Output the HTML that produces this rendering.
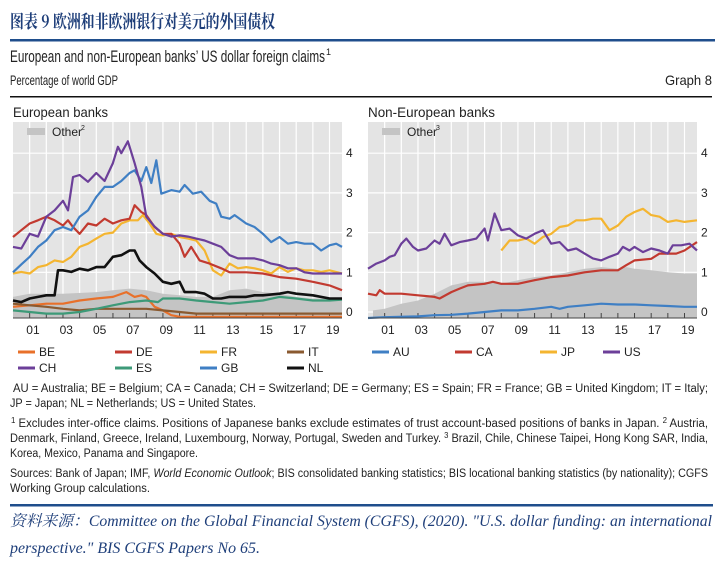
<!DOCTYPE html>
<html><head><meta charset="utf-8"><style>
html,body{margin:0;padding:0;background:#fff;width:726px;height:570px;overflow:hidden}
svg{display:block}
.t{font-family:"Liberation Sans Narrow","Liberation Sans",sans-serif;fill:#222}
</style></head><body>
<svg id="root" width="726" height="570" viewBox="0 0 726 570" xmlns="http://www.w3.org/2000/svg">
<text x="10" y="28" font-family="'Noto Serif CJK SC','Liberation Serif',serif" font-weight="bold" font-size="18" fill="#1f3f7a" textLength="265" lengthAdjust="spacingAndGlyphs">图表 9  欧洲和非欧洲银行对美元的外国债权</text>
<rect x="10" y="39" width="705" height="2.5" fill="#1f4e8c"/>
<text class="t" x="10" y="62" font-size="17" textLength="315" lengthAdjust="spacingAndGlyphs">European and non-European banks’ US dollar foreign claims</text>
<text class="t" x="326" y="55" font-size="9">1</text>
<text class="t" x="10" y="85" font-size="14" textLength="108" lengthAdjust="spacingAndGlyphs">Percentage of world GDP</text>
<text class="t" x="665" y="85" font-size="14" textLength="47" lengthAdjust="spacingAndGlyphs">Graph 8</text>
<rect x="10" y="96" width="702" height="1.5" fill="#111"/>
<text class="t" x="13" y="117" font-size="14" textLength="95" lengthAdjust="spacingAndGlyphs">European banks</text>
<text class="t" x="368" y="117" font-size="14" textLength="127" lengthAdjust="spacingAndGlyphs">Non-European banks</text>
<g id="left"></g>
<g id="right"></g>
<g id="legend"></g>
<g class="t" font-size="11.5">
<text x="13" y="392" textLength="695" lengthAdjust="spacingAndGlyphs">AU = Australia; BE = Belgium; CA = Canada; CH = Switzerland; DE = Germany; ES = Spain; FR = France; GB = United Kingdom; IT = Italy;</text>
<text x="10" y="407" textLength="246" lengthAdjust="spacingAndGlyphs">JP = Japan; NL = Netherlands; US = United States.</text>
<text x="11" y="427" textLength="697" lengthAdjust="spacingAndGlyphs"><tspan font-size="8" dy="-4">1</tspan><tspan dy="4"> Excludes inter-office claims. Positions of Japanese banks exclude estimates of trust account-based positions of banks in Japan.  </tspan><tspan font-size="8" dy="-4">2</tspan><tspan dy="4"> Austria,</tspan></text>
<text x="10" y="442" textLength="698" lengthAdjust="spacingAndGlyphs">Denmark, Finland, Greece, Ireland, Luxembourg, Norway, Portugal, Sweden and Turkey.  <tspan font-size="8" dy="-4">3</tspan><tspan dy="4"> Brazil, Chile, Chinese Taipei, Hong Kong SAR, India,</tspan></text>
<text x="10" y="457" textLength="188" lengthAdjust="spacingAndGlyphs">Korea, Mexico, Panama and Singapore.</text>
<text x="10" y="477" textLength="698" lengthAdjust="spacingAndGlyphs">Sources: Bank of Japan; IMF, <tspan font-style="italic">World Economic Outlook</tspan>; BIS consolidated banking statistics; BIS locational banking statistics (by nationality); CGFS</text>
<text x="10" y="492" textLength="140" lengthAdjust="spacingAndGlyphs">Working Group calculations.</text>
</g>
<rect x="10" y="504" width="703" height="2.5" fill="#1f4e8c"/>
<g font-family="'Liberation Serif','Noto Serif CJK SC',serif" font-style="italic" font-size="15.5" fill="#1f3f7a">
<text x="10" y="526" textLength="702" lengthAdjust="spacingAndGlyphs">资料来源：Committee on the Global Financial System (CGFS), (2020). "U.S. dollar funding: an international</text>
<text x="10" y="553" textLength="250" lengthAdjust="spacingAndGlyphs">perspective." BIS CGFS Papers No 65.</text>
</g>
</svg>
<script>
const xTickLabels=["01","03","05","07","09","11","13","15","17","19"];
const yTickValues=[0,1,2,3,4];
// Left panel (European banks)
const otherLT=[2000,2001,2003,2005,2006,2007,2008,2009,2010,2011,2012,2013,2014,2015,2016,2017,2018,2019,2019.75];
const otherLV=[0.38,0.46,0.46,0.5,0.55,0.59,0.55,0.46,0.42,0.38,0.38,0.55,0.59,0.5,0.46,0.38,0.34,0.34,0.3];
const chT=[2000,2000.5,2001,2001.5,2002,2002.5,2003,2003.3,2003.6,2004,2004.5,2005,2005.5,2006,2006.3,2006.5,2006.9,2007.3,2007.7,2008,2008.5,2009,2009.5,2010,2010.5,2011,2011.5,2012,2012.5,2013,2013.5,2014,2014.5,2015,2015.5,2016,2016.5,2017,2017.5,2018,2018.5,2019,2019.75];
const chV=[1.64,1.6,1.97,1.9,2.4,2.56,2.8,2.56,3.4,3.45,3.28,3.5,3.3,3.75,4.16,4.0,4.3,3.75,3.15,2.4,2.15,1.97,1.9,1.93,1.9,1.85,1.8,1.72,1.64,1.43,1.35,1.35,1.35,1.3,1.22,1.18,1.1,1.1,1.0,0.97,0.97,0.97,0.97];
const gbT=[2000,2000.5,2001,2001.5,2002,2002.5,2003,2003.5,2004,2004.5,2005,2005.5,2006,2006.5,2007,2007.3,2007.7,2008,2008.3,2008.6,2008.9,2009.5,2010,2010.3,2010.8,2011.3,2011.8,2012.2,2012.5,2013,2013.3,2014,2014.5,2015,2015.5,2016,2016.5,2017,2017.5,2018,2018.5,2019,2019.4,2019.75];
const gbV=[1.0,1.2,1.39,1.64,1.8,2.06,2.14,2.06,2.4,2.56,2.9,3.15,3.15,3.3,3.5,3.57,3.3,3.65,3.25,3.82,2.98,3.07,3.03,3.2,2.98,3.03,2.8,2.73,2.4,2.35,2.44,2.23,2.14,1.97,1.76,1.89,1.72,1.76,1.72,1.72,1.55,1.68,1.72,1.64];
const deT=[2000,2000.5,2001,2001.5,2002,2002.5,2003,2003.3,2003.6,2004,2004.5,2005,2005.5,2006,2006.5,2007,2007.3,2007.7,2008,2008.5,2009,2009.5,2010,2010.3,2010.7,2011.2,2011.8,2012.5,2013,2014,2015,2016,2017,2018,2019,2019.75];
const deV=[1.89,2.06,2.23,2.31,2.4,2.31,2.18,2.31,2.14,1.97,2.23,2.18,2.35,2.23,2.31,2.35,2.69,2.52,2.44,2.14,1.97,1.97,1.72,1.39,1.64,1.3,1.22,1.1,1.0,1.0,0.97,0.88,0.84,0.76,0.67,0.55];
const frT=[2000,2000.5,2001,2001.5,2002,2002.5,2003,2003.5,2004,2004.5,2005,2005.5,2006,2006.5,2007,2007.5,2007.8,2008.2,2008.6,2009,2009.5,2010,2010.5,2011,2011.5,2012,2012.5,2013,2013.5,2014,2014.5,2015,2015.5,2016,2016.5,2017,2017.5,2018,2018.5,2019,2019.75];
const frV=[0.97,1.01,0.97,1.13,1.18,1.3,1.26,1.39,1.64,1.72,1.85,1.97,2.0,2.23,2.31,2.31,2.44,2.23,1.97,1.93,1.97,1.89,1.85,1.8,1.55,1.05,0.92,1.22,1.1,1.13,1.1,1.05,0.97,1.13,1.01,1.1,1.05,1.05,1.01,1.05,0.97];
const nlT=[2000,2000.5,2001,2001.5,2002,2002.5,2002.7,2003,2003.5,2004,2004.5,2005,2005.5,2006,2006.5,2007,2007.3,2007.6,2008,2008.5,2009,2009.5,2010,2010.3,2011,2011.5,2012,2012.5,2013,2014,2014.5,2015,2016,2016.5,2017,2018,2019,2019.75];
const nlV=[0.29,0.25,0.34,0.38,0.42,0.42,1.05,1.05,1.01,1.09,1.05,1.13,1.13,1.39,1.43,1.55,1.55,1.3,1.13,0.97,0.76,0.71,0.76,0.5,0.5,0.46,0.34,0.34,0.38,0.38,0.42,0.42,0.46,0.5,0.46,0.42,0.34,0.34];
const beT=[2000,2001,2002,2003,2004,2005,2006,2006.8,2007.3,2007.7,2008,2008.5,2009,2009.5,2010,2015,2019.75];
const beV=[0.13,0.17,0.21,0.21,0.29,0.34,0.38,0.5,0.38,0.42,0.38,0.13,0.04,-0.08,-0.12,-0.12,-0.12];
const itT=[2000,2001,2002,2003,2004,2005,2006,2007,2008,2009,2010,2011,2012,2019.75];
const itV=[0.21,0.17,0.13,0.08,0.04,0.08,0.08,0.08,0.08,0.04,0.0,-0.04,-0.04,-0.04];
const esT=[2000,2001,2002,2003,2004,2005,2006,2007,2008,2008.7,2009,2010,2011,2012,2013,2014,2015,2016,2017,2018,2019,2019.75];
const esV=[0.04,0.0,-0.04,-0.04,0.0,0.08,0.17,0.25,0.29,0.25,0.34,0.34,0.29,0.25,0.21,0.25,0.29,0.38,0.34,0.29,0.29,0.31];
// Right panel (non-European banks)
const otherRT=[2000.3,2001,2002,2003,2004,2005,2006,2007,2008,2009,2010,2011,2012,2013,2014,2015,2015.5,2016,2017,2018,2019,2019.75];
const otherRV=[0.04,0.08,0.21,0.29,0.46,0.67,0.76,0.76,0.71,0.8,0.88,0.92,1.0,1.09,1.13,1.09,1.13,1.09,1.05,1.0,0.97,0.97];
const usT=[2000,2000.5,2001,2001.3,2001.6,2002,2002.3,2002.7,2003,2003.5,2004,2004.3,2004.6,2005,2005.5,2006,2006.5,2007,2007.2,2007.6,2008,2008.5,2009,2009.5,2010,2010.5,2011,2011.5,2012,2012.5,2013,2013.5,2014,2014.5,2015,2015.3,2015.7,2016,2016.5,2017,2017.5,2018,2018.3,2018.8,2019.3,2019.75];
const usV=[1.09,1.22,1.3,1.39,1.43,1.72,1.85,1.64,1.55,1.6,1.8,1.72,1.97,1.68,1.76,1.8,1.85,2.1,1.8,2.48,2.06,2.1,1.93,1.85,1.97,2.06,1.72,1.76,1.55,1.6,1.47,1.35,1.3,1.39,1.47,1.64,1.55,1.64,1.51,1.6,1.55,1.47,1.68,1.68,1.72,1.55];
const jpT=[2008,2008.5,2009,2009.5,2010,2010.5,2011,2011.5,2012,2012.5,2013,2013.5,2014,2014.5,2015,2015.5,2016,2016.5,2017,2017.5,2018,2018.5,2019,2019.75];
const jpV=[1.55,1.8,1.8,1.85,1.72,1.89,1.97,2.14,2.18,2.31,2.31,2.35,2.35,2.06,2.18,2.4,2.52,2.6,2.44,2.4,2.27,2.31,2.27,2.31];
const caT=[2000,2000.5,2000.7,2001,2002,2003,2004,2004.3,2005,2005.5,2006,2007,2007.5,2008,2009,2010,2011,2012,2013,2014,2015,2015.5,2016,2017,2017.5,2018,2018.5,2019,2019.75];
const caV=[0.46,0.42,0.55,0.46,0.46,0.42,0.38,0.34,0.5,0.59,0.67,0.71,0.76,0.71,0.71,0.8,0.88,0.92,1.0,1.05,1.05,1.18,1.3,1.34,1.47,1.47,1.47,1.55,1.76];
const auT=[2000,2001,2003,2004,2005,2006,2007,2008,2009,2010,2011,2011.5,2012,2013,2014,2015,2016,2017,2018,2019,2019.75];
const auV=[-0.17,-0.13,-0.11,-0.08,-0.07,-0.04,0.0,0.04,0.04,0.08,0.13,0.08,0.13,0.17,0.21,0.19,0.19,0.17,0.15,0.13,0.13];

const NS='http://www.w3.org/2000/svg';
const C={BE:'#e8702a',DE:'#c23a30',FR:'#f4b530',IT:'#8a5a30',CH:'#6c3f99',ES:'#3d9a78',GB:'#3f7fc4',NL:'#111111',AU:'#3f7fc4',CA:'#c23a30',JP:'#f4b530',US:'#6c3f99'};
function mk(tag,attrs,parent){const e=document.createElementNS(NS,tag);for(const k in attrs)e.setAttribute(k,attrs[k]);parent.appendChild(e);return e;}
function yScale(v){return 312-v*39.7;}
function panel(g,x0,x1,other,series){
  const y0=122,y1=318;
  const xs=t=>x0+(t-2000)*(x1-x0)/19.75;
  const bg=mk('rect',{x:x0,y:y0,width:x1-x0,height:y1-y0,fill:'#e4e4e4'},g);
  
  
  for(let yr=2001;yr<=2019;yr++){const l=mk('line',{x1:xs(yr),x2:xs(yr),y1:y0,y2:y1,stroke:'#fff','stroke-width':1.2},g);
    
    }
  yTickValues.forEach(v=>{const l=mk('line',{x1:x0,x2:x1,y1:yScale(v),y2:yScale(v),stroke:'#fff','stroke-width':1.2},g);
    
    
    const tx=mk('text',{x:x1+4,y:yScale(v)+4,'font-size':12,class:'t',fill:'#333'},g);tx.textContent=v;
    
    });
  let d='M'+xs(other[0][0])+','+y1;
  other[0].forEach((t,i)=>{d+='L'+xs(t).toFixed(1)+','+yScale(other[1][i]).toFixed(1);});
  d+='L'+xs(other[0][other[0].length-1])+','+y1+'Z';
  const a=mk('path',{d:d,fill:'#c4c4c4'},g);
  
  
  for(let yr=2001;yr<=2019;yr++){const l=mk('line',{x1:xs(yr),x2:xs(yr),y1:y1-5,y2:y1,stroke:'#444','stroke-width':1},g);
    
    }
  series.forEach(s=>{
    let p='';s[1].forEach((t,i)=>{p+=(i?'L':'M')+xs(t).toFixed(1)+','+Math.min(y1,yScale(s[2][i])).toFixed(1);});
    const pl=mk('path',{d:p,fill:'none',stroke:C[s[0]],'stroke-width':s[0]==='NL'?2.6:2.2,'stroke-linejoin':'round'},g);
    
    
  });
  const ax=mk('line',{x1:x0,x2:x1,y1:y1,y2:y1,stroke:'#444','stroke-width':1},g);
  
  
  xTickLabels.forEach(lb=>{const yr=2000+parseInt(lb,10);const tx=mk('text',{x:xs(yr+0.2),y:334,'font-size':12,class:'t','text-anchor':'middle',fill:'#333'},g);tx.textContent=lb;
    
    });
  const r=mk('rect',{x:x0+14,y:128,width:18,height:7,fill:'#c4c4c4'},g);
  
  
  return xs;
}
panel(document.getElementById('left'),13,342,[otherLT,otherLV],[['BE',beT,beV],['IT',itT,itV],['ES',esT,esV],['NL',nlT,nlV],['FR',frT,frV],['DE',deT,deV],['GB',gbT,gbV],['CH',chT,chV]]);
panel(document.getElementById('right'),368,697,[otherRT,otherRV],[['AU',auT,auV],['CA',caT,caV],['JP',jpT,jpV],['US',usT,usV]]);
[['left',52,'2'],['right',407,'3']].forEach(o=>{const g=document.getElementById(o[0]);
  const tx=mk('text',{x:o[1],y:136,'font-size':12,class:'t',fill:'#333'},g);tx.textContent='Other';
  
  
  const sp=mk('text',{x:o[1]+29,y:130,'font-size':7,class:'t',fill:'#333'},g);sp.textContent=o[2];
  
  });
const legendKeys=['BE','DE','FR','IT','AU','CA','JP','US','CH','ES','GB','NL'];
const lg=document.getElementById('legend');
const lx=[18,115,200,287,372,455,540,603];
legendKeys.forEach((k,i)=>{const row=i<8?0:1;const col=i<8?i:i-8;const x=lx[col];const y=352+row*16;
  const g=mk('g',{},lg);
  
  
  mk('line',{x1:x,x2:x+17,y1:y,y2:y,stroke:C[k],'stroke-width':3},g);
  const t=mk('text',{x:x+21,y:y+4,'font-size':12,class:'t',fill:'#333'},g);t.textContent=k;});
</script>
</body></html>
